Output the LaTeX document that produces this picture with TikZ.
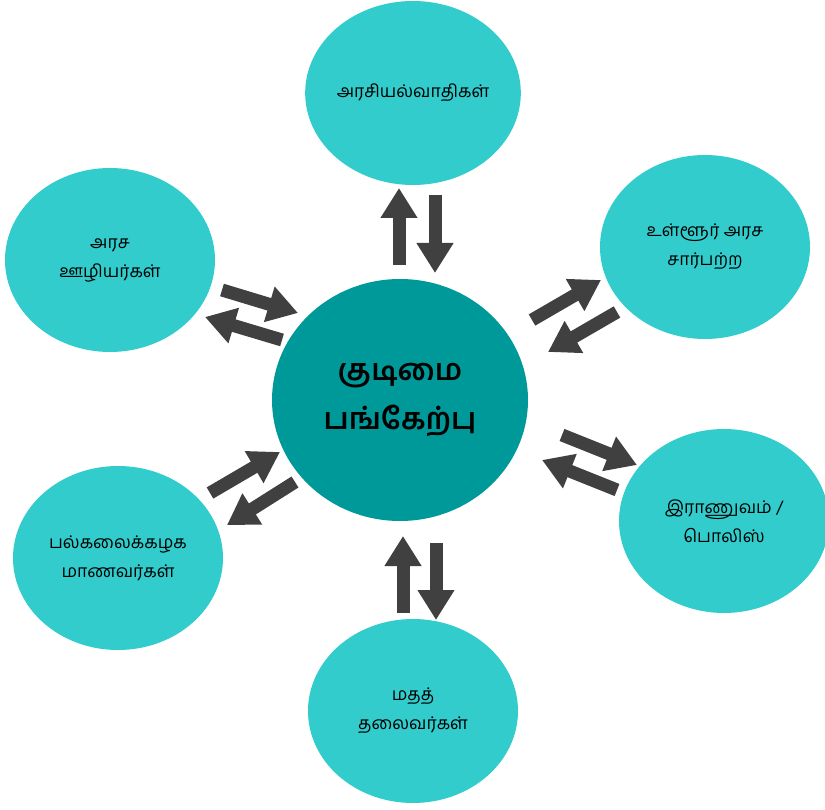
\documentclass[tikz,border=0pt]{standalone}
\usepackage{fontspec}
\newfontfamily\tamil[Script=Tamil]{Hind Madurai}
\usetikzlibrary{shapes.geometric,arrows.meta}
\definecolor{outerc}{RGB}{51,204,204}
\definecolor{centerc}{RGB}{0,153,153}
\definecolor{arrc}{RGB}{64,64,64}
\tikzset{
  outer/.style={ellipse,fill=outerc,draw=none,minimum width=210pt,minimum height=184pt,inner sep=0pt,
    font=\tamil\fontsize{17.5}{29}\selectfont,text=black,align=center},
  hub/.style={ellipse,fill=centerc,draw=none,minimum width=256pt,minimum height=242pt,inner sep=0pt,
    font=\tamil\bfseries\fontsize{30}{49}\selectfont,text=black,align=center},
  blk/.style={draw=arrc,line width=13pt,-{Triangle[length=30pt,width=35pt]}}
}
\begin{document}
\begin{tikzpicture}[x=1pt,y=-1pt]
\useasboundingbox (0,0) rectangle (825,810);
\node[hub] (c) at (400,400) {குடிமை\\பங்கேற்பு};
\node[outer] (t) at (413,93) {அரசியல்வாதிகள்};
\node[outer] (tr) at (705,247) {உள்ளூர் அரச\\சார்பற்ற};
\node[outer] (r) at (724,521) {இராணுவம் /\\பொலிஸ்};
\node[outer] (b) at (413,711) {மதத்\\தலைவர்கள்};
\node[outer] (bl) at (118,558) {பல்கலைக்கழக\\மாணவர்கள்};
\node[outer] (tl) at (110,260) {அரச\\ஊழியர்கள்};
% top pair
\coordinate (t1a) at (399,265); \coordinate (t1b) at (399,188);
\coordinate (t2a) at (435,195); \coordinate (t2b) at (435,273);
% top-right pair
\coordinate (tr1a) at (532,320); \coordinate (tr1b) at (601,280);
\coordinate (tr2a) at (617,312); \coordinate (tr2b) at (548,352);
% right pair
\coordinate (r1a) at (562,435); \coordinate (r1b) at (637,465);
\coordinate (r2a) at (617,490); \coordinate (r2b) at (542,460);
% bottom pair
\coordinate (b1a) at (403,613); \coordinate (b1b) at (403,536);
\coordinate (b2a) at (436,543); \coordinate (b2b) at (436,620);
% bottom-left pair
\coordinate (bl1a) at (210,493); \coordinate (bl1b) at (280,452);
\coordinate (bl2a) at (295,482); \coordinate (bl2b) at (227,525);
% top-left pair
\coordinate (tl1a) at (222,290); \coordinate (tl1b) at (298,313);
\coordinate (tl2a) at (282,340); \coordinate (tl2b) at (205,317);
\draw[blk] (t1a) -- (t1b);
\draw[blk] (t2a) -- (t2b);
\draw[blk] (tr1a) -- (tr1b);
\draw[blk] (tr2a) -- (tr2b);
\draw[blk] (r1a) -- (r1b);
\draw[blk] (r2a) -- (r2b);
\draw[blk] (b1a) -- (b1b);
\draw[blk] (b2a) -- (b2b);
\draw[blk] (bl1a) -- (bl1b);
\draw[blk] (bl2a) -- (bl2b);
\draw[blk] (tl1a) -- (tl1b);
\draw[blk] (tl2a) -- (tl2b);
\end{tikzpicture}
\end{document}
